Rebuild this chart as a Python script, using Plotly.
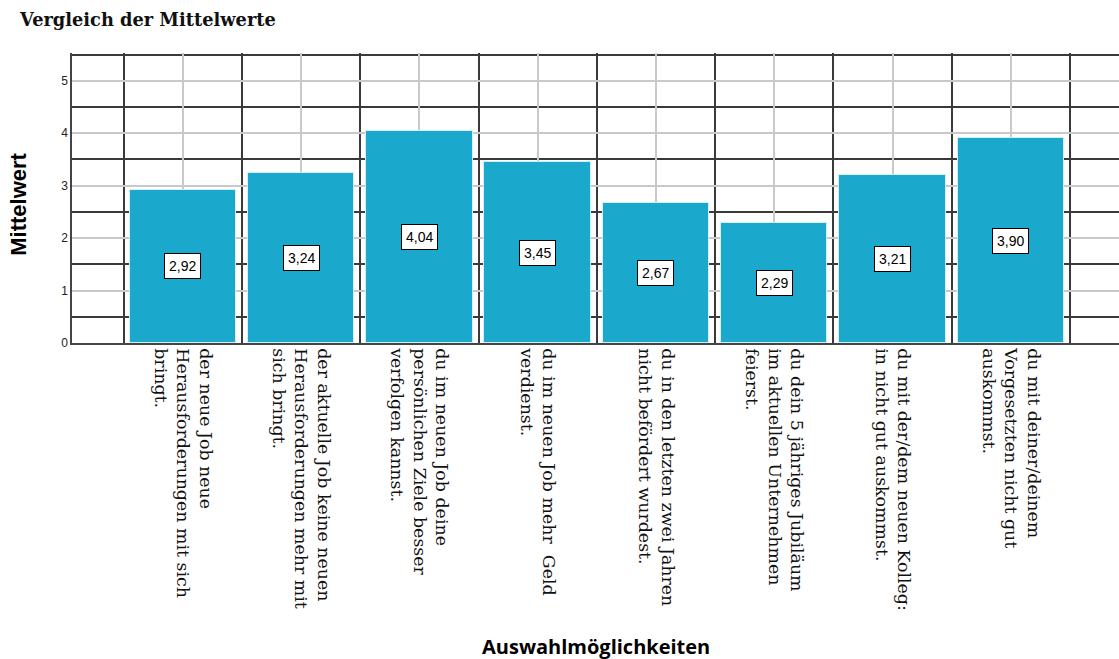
import plotly.graph_objects as go

# Mean values per answer option
categories = [
    "der neue Job neue<br>Herausforderungen mit sich<br>bringt.",
    "der aktuelle Job keine neuen<br>Herausforderungen mehr mit<br>sich bringt.",
    "du im neuen Job deine<br>persönlichen Ziele besser<br>verfolgen kannst.",
    "du im neuen Job mehr  Geld<br>verdienst.",
    "du in den letzten zwei Jahren<br>nicht befördert wurdest.",
    "du dein 5 jähriges Jubiläum<br>im aktuellen Unternehmen<br>feierst.",
    "du mit der/dem neuen Kolleg:<br>in nicht gut auskommst.",
    "du mit deiner/deinem<br>Vorgesetzten nicht gut<br>auskommst.",
]
means = [2.92, 3.24, 4.04, 3.45, 2.67, 2.29, 3.21, 3.90]
y_ticks = [0, 1, 2, 3, 4, 5]

positions = list(range(len(categories)))

BAR_COLOR = "#1aa9cd"
DARK_GRID = "#3a3a3a"
LIGHT_GRID = "#c9c9c9"

fig = go.Figure()
fig.add_trace(go.Bar(
    x=positions,
    y=means,
    width=0.9,
    marker=dict(color=BAR_COLOR, line=dict(color="#d6eef5", width=1)),
    hoverinfo="skip",
))

# Value labels, boxed, at half bar height
for xi, v in zip(positions, means):
    fig.add_annotation(
        x=xi, y=v / 2, xref="x", yref="y",
        text=f"{v:.2f}".replace(".", ","),
        showarrow=False,
        font=dict(family="Arial, Liberation Sans, sans-serif", size=14, color="#000"),
        bgcolor="#ffffff", bordercolor="#000000", borderwidth=1, borderpad=4,
    )

fig.update_xaxes(
    range=[-0.9375, 7.915],
    tickmode="array", tickvals=positions, ticktext=categories,
    tickangle=90,
    tickfont=dict(family="DejaVu Serif, serif", size=17.4, color="#111"),
    showgrid=True, gridcolor=LIGHT_GRID, gridwidth=1.5,
    minor=dict(tickmode="array", tickvals=[p - 0.5 for p in positions] + [positions[-1] + 0.5],
               showgrid=True, gridcolor=DARK_GRID, gridwidth=2, ticklen=0),
    showline=True, linecolor="#444", linewidth=1.5,
    ticks="", zeroline=False, automargin=False,
)
fig.update_yaxes(
    range=[0, 5.53],
    tickmode="array", tickvals=y_ticks, ticktext=[str(t) for t in y_ticks],
    tickfont=dict(family="Arial, Liberation Sans, sans-serif", size=12, color="#222"),
    showgrid=True, gridcolor=LIGHT_GRID, gridwidth=1.5,
    minor=dict(tickmode="array", tickvals=[t + 0.5 for t in y_ticks],
               showgrid=True, gridcolor=DARK_GRID, gridwidth=2, ticklen=0),
    showline=True, linecolor="#444", linewidth=1.5,
    ticks="", zeroline=False, automargin=False,
)

# Axis titles
fig.add_annotation(
    text="<b>Mittelwert</b>", textangle=-90,
    xref="paper", yref="paper", x=-0.0513, y=0.4776,
    showarrow=False, xanchor="center", yanchor="middle",
    font=dict(family="Arial, Liberation Sans, sans-serif", size=22, color="#000"),
)
fig.add_annotation(
    text="<b>Auswahlmöglichkeiten</b>",
    xref="paper", yref="paper", x=0.5, y=-1.045,
    showarrow=False, xanchor="center", yanchor="middle",
    font=dict(family="Open Sans, sans-serif", size=20, color="#000"),
)

fig.update_layout(
    width=1119, height=659,
    margin=dict(l=71.7, r=0, t=53, b=316),
    paper_bgcolor="#ffffff", plot_bgcolor="#ffffff",
    showlegend=False,
    bargap=0,
    title=dict(
        text="<b>Vergleich der Mittelwerte</b>",
        xref="container", yref="container",
        x=20 / 1119, y=1 - 20 / 659, xanchor="left", yanchor="middle",
        font=dict(family="DejaVu Serif, serif", size=17.8, color="#111"),
    ),
)

fig.write_html("out.html")
